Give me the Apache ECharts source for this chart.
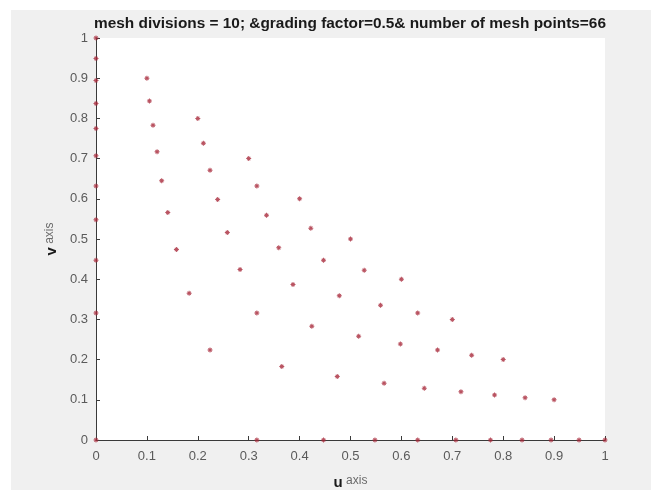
<!DOCTYPE html>
<html>
<head>
<meta charset="utf-8">
<script src="https://cdn.jsdelivr.net/npm/echarts@6/dist/echarts.min.js"></script>
<style>
html,body{margin:0;padding:0;background:#ffffff;}
#chart{width:651px;height:490px;}
</style>
</head>
<body>
<div id="chart"></div>
<script>
// Mesh point coordinates (u, v)
var uValues = [
  0,
  0, 0.316,
  0, 0.224, 0.447,
  0, 0.183, 0.365, 0.548,
  0, 0.158, 0.316, 0.474, 0.632,
  0, 0.141, 0.283, 0.424, 0.566, 0.707,
  0, 0.129, 0.258, 0.387, 0.516, 0.645, 0.775,
  0, 0.120, 0.239, 0.359, 0.478, 0.598, 0.717, 0.837,
  0, 0.112, 0.224, 0.335, 0.447, 0.559, 0.671, 0.783, 0.894,
  0, 0.105, 0.211, 0.316, 0.422, 0.527, 0.632, 0.738, 0.843, 0.949,
  0, 0.1, 0.2, 0.3, 0.4, 0.5, 0.6, 0.7, 0.8, 0.9, 1
];
var vValues = [
  0,
  0.316, 0,
  0.447, 0.224, 0,
  0.548, 0.365, 0.183, 0,
  0.632, 0.474, 0.316, 0.158, 0,
  0.707, 0.566, 0.424, 0.283, 0.141, 0,
  0.775, 0.645, 0.516, 0.387, 0.258, 0.129, 0,
  0.837, 0.717, 0.598, 0.478, 0.359, 0.239, 0.120, 0,
  0.894, 0.783, 0.671, 0.559, 0.447, 0.335, 0.224, 0.112, 0,
  0.949, 0.843, 0.738, 0.632, 0.527, 0.422, 0.316, 0.211, 0.105, 0,
  1, 0.9, 0.8, 0.7, 0.6, 0.5, 0.4, 0.3, 0.2, 0.1, 0
];
var titleText = 'mesh divisions = 10; &grading factor=0.5& number of mesh points=66';

var points = [];
for (var i = 0; i < uValues.length; i++) points.push([uValues[i], vValues[i]]);

var asterisk = 'path://M4,0H6V10H4Z M0,4H10V6H0Z M1,2.4L2.4,1L9,7.6L7.6,9Z M7.6,1L9,2.4L2.4,9L1,7.6Z';
var fontFam = '"Liberation Sans", Arial, Helvetica, sans-serif';

var chart = echarts.init(document.getElementById('chart'), null, {renderer: 'canvas'});
chart.setOption({
  backgroundColor: '#ffffff',
  animation: false,
  graphic: [{
    type: 'rect', z: -10, silent: true,
    shape: {x: 11, y: 10, width: 640, height: 480},
    style: {fill: '#f0f0f0'}
  }],
  title: {
    text: titleText,
    left: 345, top: 11, textAlign: 'center',
    textStyle: {fontFamily: fontFam, fontSize: 15.4, fontWeight: 'bold', color: '#1a1a1a'}
  },
  grid: {
    left: 96, right: 46, top: 38, bottom: 50,
    outerBoundsMode: 'none', containLabel: false,
    show: true, backgroundColor: '#ffffff', borderWidth: 0
  },
  xAxis: {
    type: 'value', min: 0, max: 1, interval: 0.1,
    name: '{b|u} {a|axis}', nameLocation: 'middle', nameGap: 35,
    nameTextStyle: {
      rich: {
        b: {fontFamily: fontFam, fontSize: 15, fontWeight: 'bold', color: '#1a1a1a'},
        a: {fontFamily: fontFam, fontSize: 12, color: '#6a6a6a', padding: [0, 0, 3, 0]}
      }
    },
    axisLine: {show: true, onZero: false, lineStyle: {color: '#3a3a3a', width: 1}},
    axisTick: {show: true, inside: true, length: 4, lineStyle: {color: '#3a3a3a'}},
    axisLabel: {fontFamily: fontFam, fontSize: 13, color: '#5a5a5a', margin: 10},
    splitLine: {show: false}
  },
  yAxis: {
    type: 'value', min: 0, max: 1, interval: 0.1,
    name: '{b|v} {a|axis}', nameLocation: 'middle', nameGap: 37, nameRotate: 90,
    nameTextStyle: {
      rich: {
        b: {fontFamily: fontFam, fontSize: 15, fontWeight: 'bold', color: '#1a1a1a'},
        a: {fontFamily: fontFam, fontSize: 12, color: '#6a6a6a', padding: [0, 0, 3, 0]}
      }
    },
    axisLine: {show: true, onZero: false, lineStyle: {color: '#3a3a3a', width: 1}},
    axisTick: {show: true, inside: true, length: 4, lineStyle: {color: '#3a3a3a'}},
    axisLabel: {fontFamily: fontFam, fontSize: 13, color: '#5a5a5a', margin: 8},
    splitLine: {show: false}
  },
  series: [{
    type: 'scatter',
    data: points,
    symbol: asterisk,
    symbolSize: 5,
    clip: false,
    itemStyle: {color: '#a8283a'},
    z: 5
  }]
});
</script>
</body>
</html>
